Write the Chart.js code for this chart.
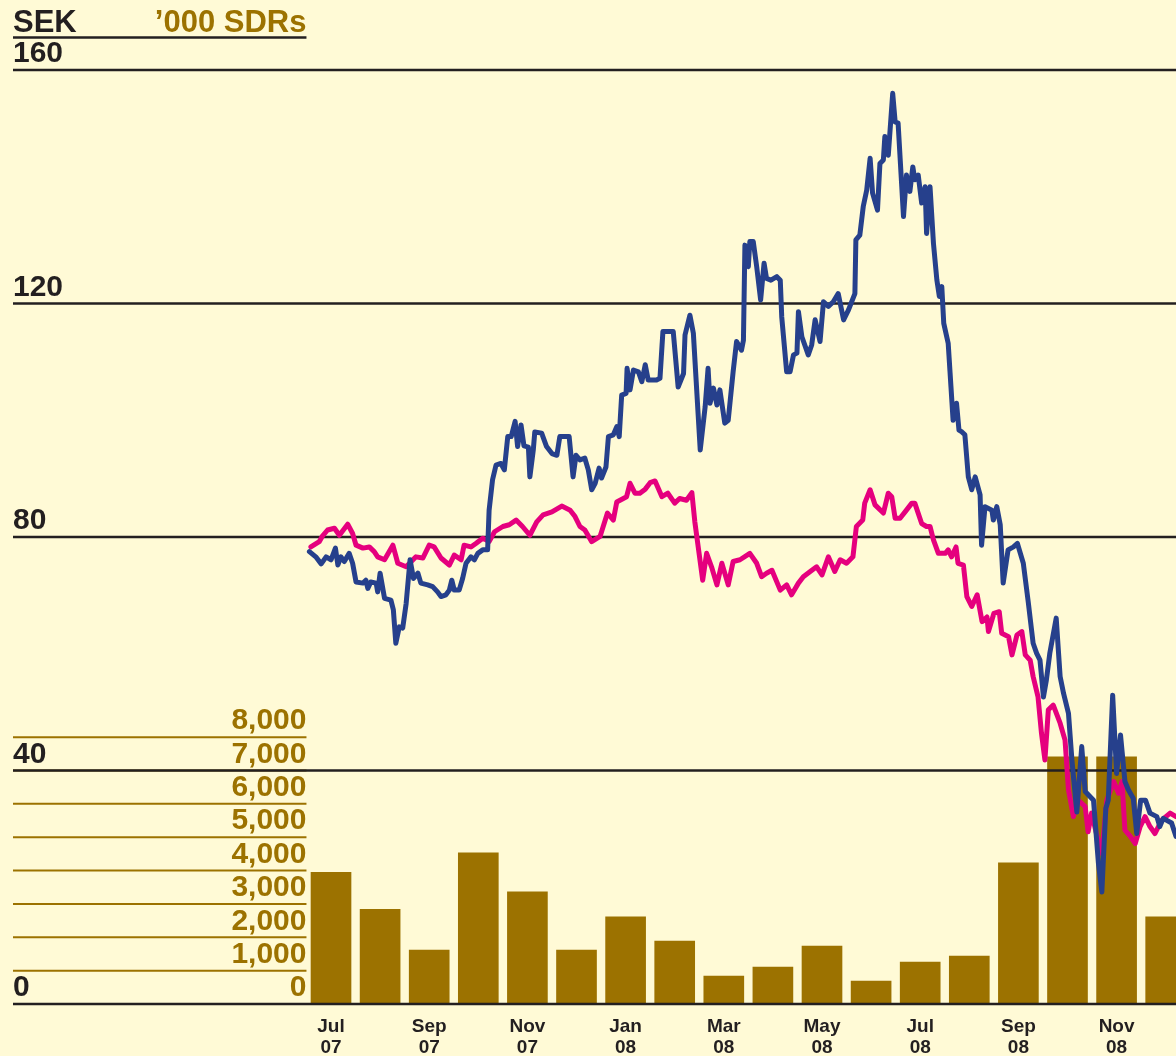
<!DOCTYPE html>
<html>
<head>
<meta charset="utf-8">
<title>SEK and '000 SDRs</title>
<script src="https://cdn.jsdelivr.net/npm/chart.js@4.4.1/dist/chart.umd.min.js"></script>
<style>
  html, body { margin: 0; padding: 0; background: #fffad6; }
  canvas { display: block; }
</style>
</head>
<body>
<canvas id="chart" width="1176" height="1056"></canvas>
<script>
// monthly bars, '000 SDRs (x = month index, 0 = Jul 07)
var months = ['Jul 07', 'Aug 07', 'Sep 07', 'Oct 07', 'Nov 07', 'Dec 07', 'Jan 08', 'Feb 08', 'Mar 08',
              'Apr 08', 'May 08', 'Jun 08', 'Jul 08', 'Aug 08', 'Sep 08', 'Oct 08', 'Nov 08', 'Dec 08'];
var sdrValues = [3950, 2840, 1620, 4530, 3360, 1620, 2610, 1890, 840,
                 1110, 1740, 690, 1260, 1440, 4230, 7410, 7410, 2610];

// x axis labels
var xTickPos = [0, 2, 4, 6, 8, 10, 12, 14, 16];
var xTickText = [['Jul', '07'], ['Sep', '07'], ['Nov', '07'], ['Jan', '08'], ['Mar', '08'],
                 ['May', '08'], ['Jul', '08'], ['Sep', '08'], ['Nov', '08']];

var sekTicks = [0, 40, 80, 120, 160];
var sdrTicksShown = 8000;

// SEK series, [month position, value]
var blueSeries = [
  [-0.44,77.5],[-0.31,76.6],[-0.20,75.4],[-0.10,76.6],[0.00,76.1],[0.09,78.1],[0.14,75.2],[0.20,76.6],
  [0.27,75.8],[0.37,77.2],[0.44,75.5],[0.51,72.3],[0.65,72.1],[0.71,72.6],[0.75,71.2],[0.81,72.3],
  [0.92,72.1],[0.95,70.6],[1.00,73.8],[1.09,69.5],[1.22,69.2],[1.27,67.5],[1.32,61.8],[1.39,64.6],
  [1.46,64.4],[1.53,68.6],[1.61,76.1],[1.68,72.9],[1.77,73.8],[1.83,72.1],[1.97,71.8],[2.07,71.5],
  [2.17,70.6],[2.24,69.8],[2.34,70.1],[2.41,70.9],[2.46,72.6],[2.51,70.9],[2.61,70.9],[2.68,72.9],
  [2.75,75.5],[2.85,76.6],[2.92,76.1],[2.99,77.2],[3.09,77.8],[3.19,77.8],[3.22,84.6],[3.29,89.8],
  [3.36,92.3],[3.46,92.6],[3.53,91.5],[3.60,97.2],[3.67,97.2],[3.75,99.8],[3.80,95.5],[3.87,99.2],
  [3.93,95.6],[4.02,95.4],[4.05,90.3],[4.12,94.9],[4.15,98.0],[4.29,97.8],[4.39,95.5],[4.50,94.3],
  [4.60,94.0],[4.66,97.2],[4.85,97.2],[4.93,90.3],[4.99,94.0],[5.07,93.2],[5.17,93.5],[5.24,91.5],
  [5.31,88.1],[5.38,89.2],[5.46,91.8],[5.51,90.1],[5.60,92.0],[5.65,97.2],[5.75,97.5],[5.82,98.9],
  [5.87,97.2],[5.92,104.3],[6.01,104.6],[6.03,108.9],[6.09,105.2],[6.16,108.6],[6.26,108.3],[6.33,106.6],
  [6.40,109.5],[6.46,106.9],[6.63,106.9],[6.70,107.2],[6.76,115.2],[6.97,115.2],[7.07,105.7],[7.18,108.0],
  [7.21,114.6],[7.31,118.0],[7.38,114.9],[7.52,94.9],[7.62,102.3],[7.68,108.9],[7.72,102.9],[7.79,105.5],
  [7.86,102.6],[7.92,105.2],[8.02,99.5],[8.09,100.0],[8.19,108.3],[8.26,113.5],[8.36,112.0],[8.40,113.7],
  [8.43,130.0],[8.50,126.3],[8.53,130.6],[8.60,130.6],[8.67,126.3],[8.75,120.6],[8.82,126.9],[8.87,124.3],
  [8.96,124.0],[9.08,124.6],[9.15,124.0],[9.18,117.7],[9.28,108.3],[9.35,108.3],[9.42,111.2],[9.49,111.5],
  [9.52,118.6],[9.59,114.3],[9.72,111.2],[9.79,112.9],[9.86,117.2],[9.96,113.5],[10.03,120.3],[10.13,119.5],
  [10.23,120.3],[10.33,121.7],[10.44,117.2],[10.54,118.9],[10.67,121.7],[10.69,130.9],[10.77,131.7],[10.84,136.6],
  [10.91,139.4],[10.98,144.9],[11.03,138.9],[11.13,136.0],[11.18,144.0],[11.25,144.6],[11.28,148.6],[11.35,145.4],
  [11.44,156.0],[11.49,151.1],[11.55,150.9],[11.66,134.9],[11.72,142.0],[11.79,139.2],[11.85,143.4],[11.89,141.2],
  [11.96,142.0],[12.03,137.2],[12.10,140.0],[12.13,132.0],[12.20,140.0],[12.27,130.3],[12.34,124.0],[12.39,121.2],
  [12.44,122.9],[12.48,116.6],[12.57,113.2],[12.67,100.0],[12.74,102.9],[12.79,98.3],[12.85,98.0],[12.91,97.5],
  [12.98,90.3],[13.05,88.1],[13.12,90.3],[13.22,87.2],[13.25,78.6],[13.32,85.2],[13.46,84.6],[13.49,82.9],
  [13.56,85.2],[13.63,82.1],[13.69,72.1],[13.79,77.8],[13.90,78.3],[13.98,78.9],[14.10,75.5],[14.20,68.9],
  [14.30,61.8],[14.37,60.1],[14.44,58.9],[14.51,52.6],[14.57,55.5],[14.64,60.1],[14.77,66.1],[14.85,56.1],
  [14.92,53.2],[15.02,49.8],[15.09,41.8],[15.19,32.9],[15.29,44.1],[15.36,36.4],[15.53,34.9],[15.63,24.1],
  [15.70,19.2],[15.78,33.5],[15.83,34.9],[15.92,52.9],[16.00,39.5],[16.08,46.1],[16.17,38.1],[16.24,36.7],
  [16.34,35.2],[16.41,29.2],[16.49,34.9],[16.59,34.9],[16.68,32.7],[16.82,32.1],[16.88,30.4],[16.95,31.8],
  [17.12,31.0],[17.21,28.7],[17.29,27.2]
];

var pinkSeries = [
  [-0.41,78.3],[-0.24,79.2],[-0.18,80.1],[-0.07,81.2],[0.07,81.5],[0.17,80.3],[0.34,82.2],[0.44,80.6],
  [0.51,78.6],[0.65,78.1],[0.78,78.3],[0.88,77.5],[0.95,76.6],[1.09,76.1],[1.26,78.6],[1.36,75.5],
  [1.53,74.9],[1.73,76.6],[1.87,76.4],[2.00,78.6],[2.10,78.3],[2.24,76.4],[2.41,75.2],[2.51,76.9],
  [2.65,76.1],[2.71,78.6],[2.85,78.3],[2.95,78.9],[3.09,79.8],[3.22,79.2],[3.33,80.9],[3.50,81.8],
  [3.63,82.1],[3.77,82.9],[3.90,81.8],[4.05,80.3],[4.19,82.6],[4.32,83.8],[4.50,84.3],[4.70,85.3],
  [4.87,84.6],[4.97,83.5],[5.07,81.8],[5.17,81.2],[5.31,79.2],[5.48,80.1],[5.63,84.1],[5.75,82.9],
  [5.82,86.0],[6.02,86.9],[6.09,89.2],[6.19,87.5],[6.29,87.5],[6.40,88.2],[6.50,89.3],[6.60,89.6],
  [6.74,86.9],[6.86,87.5],[7.00,85.8],[7.10,86.6],[7.24,86.3],[7.35,87.6],[7.41,82.6],[7.57,72.6],
  [7.65,77.2],[7.75,74.9],[7.86,71.8],[7.96,75.5],[8.09,71.8],[8.19,75.8],[8.33,76.1],[8.53,77.2],
  [8.67,75.5],[8.77,73.2],[8.87,73.8],[8.98,74.3],[9.15,70.9],[9.28,71.8],[9.38,70.1],[9.52,72.1],
  [9.62,73.2],[9.76,74.1],[9.89,74.9],[10.00,73.5],[10.13,76.6],[10.26,74.1],[10.37,76.1],[10.50,75.5],
  [10.63,76.6],[10.70,81.8],[10.83,82.9],[10.87,85.8],[10.98,88.1],[11.08,85.5],[11.25,84.1],[11.35,87.5],
  [11.42,86.9],[11.49,83.2],[11.59,83.2],[11.72,84.6],[11.83,85.8],[11.89,85.8],[12.03,82.3],[12.13,81.8],
  [12.20,81.8],[12.27,79.5],[12.37,77.2],[12.51,77.2],[12.57,77.8],[12.64,76.6],[12.73,78.3],[12.77,75.5],
  [12.88,75.2],[12.95,69.8],[13.05,68.1],[13.16,70.1],[13.26,65.5],[13.36,66.3],[13.39,63.8],[13.50,66.9],
  [13.61,67.2],[13.66,63.5],[13.80,62.9],[13.87,59.8],[13.97,63.2],[14.07,63.8],[14.14,59.8],[14.24,58.9],
  [14.30,56.1],[14.40,52.6],[14.47,46.4],[14.54,41.8],[14.61,50.4],[14.71,51.2],[14.85,48.1],[14.95,45.2],
  [15.02,36.7],[15.12,32.1],[15.22,34.9],[15.36,33.8],[15.42,29.5],[15.49,32.7],[15.59,29.2],[15.70,25.8],
  [15.80,34.9],[15.94,38.1],[16.04,36.1],[16.11,38.1],[16.17,29.8],[16.28,28.7],[16.38,27.5],[16.48,30.4],
  [16.58,32.1],[16.68,30.4],[16.78,29.2],[16.92,31.5],[17.09,32.7],[17.21,32.1],[17.29,31.5]
];

var BG = '#fffad6';
var INK = '#231f20';
var GOLD = '#9c7200';
var BLUE = '#26408c';
var PINK = '#e5007e';
var FONT = '"Liberation Sans", Arial, Helvetica, sans-serif';

Chart.defaults.font.family = FONT;
Chart.defaults.font.weight = 'bold';

// background, header and the short gold '000 SDR lines
var backdrop = {
    id: 'backdrop',
    beforeDraw: function(chart) {
        var ctx = chart.ctx;
        var area = chart.chartArea;
        var y1 = chart.scales.y1;
        var xEnd = chart.scales.x.getPixelForValue(-0.5);
        ctx.save();
        ctx.fillStyle = BG;
        ctx.fillRect(0, 0, chart.width, chart.height);

        ctx.strokeStyle = GOLD;
        ctx.lineWidth = 2;
        for (var v = 0; v <= sdrTicksShown; v += 1000) {
            var py = y1.getPixelForValue(v);
            ctx.beginPath();
            ctx.moveTo(area.left, py);
            ctx.lineTo(xEnd, py);
            ctx.stroke();
        }

        ctx.font = 'bold 31px ' + FONT;
        ctx.textBaseline = 'alphabetic';
        ctx.fillStyle = INK;
        ctx.textAlign = 'left';
        ctx.fillText('SEK', area.left, 32);
        ctx.fillStyle = GOLD;
        ctx.textAlign = 'right';
        ctx.fillText('\u2019000 SDRs', xEnd, 32);

        ctx.strokeStyle = INK;
        ctx.lineWidth = 2.5;
        ctx.beginPath();
        ctx.moveTo(area.left, 37.5);
        ctx.lineTo(xEnd, 37.5);
        ctx.stroke();
        ctx.restore();
    },
    // SEK grid lines sit on top of the bars but under the lines
    afterDatasetDraw: function(chart, args) {
        if (args.index !== 0) return;
        var ctx = chart.ctx;
        var area = chart.chartArea;
        var y = chart.scales.y;
        ctx.save();
        ctx.strokeStyle = INK;
        ctx.lineWidth = 2.5;
        sekTicks.forEach(function(v) {
            var py = y.getPixelForValue(v);
            ctx.beginPath();
            ctx.moveTo(area.left, py);
            ctx.lineTo(area.right, py);
            ctx.stroke();
        });
        ctx.restore();
    }
};

var ctx = document.getElementById('chart').getContext('2d');
var chart = new Chart(ctx, {
    type: 'bar',
    data: {
        datasets: [{
            label: "'000 SDRs",
            data: sdrValues.map(function(v, i) { return {x: i, y: v}; }),
            yAxisID: 'y1',
            backgroundColor: GOLD,
            borderWidth: 0,
            barThickness: 40,
            order: 3
        }, {
            type: 'line',
            label: 'SEK (magenta)',
            data: pinkSeries.map(function(p) { return {x: p[0], y: p[1]}; }),
            yAxisID: 'y',
            borderColor: PINK,
            borderWidth: 5,
            borderJoinStyle: 'round',
            borderCapStyle: 'round',
            pointRadius: 0,
            tension: 0,
            fill: false,
            order: 2
        }, {
            type: 'line',
            label: 'SEK (blue)',
            data: blueSeries.map(function(p) { return {x: p[0], y: p[1]}; }),
            yAxisID: 'y',
            borderColor: BLUE,
            borderWidth: 5,
            borderJoinStyle: 'round',
            borderCapStyle: 'round',
            pointRadius: 0,
            tension: 0,
            fill: false,
            order: 1
        }]
    },
    options: {
        responsive: false,
        animation: false,
        layout: { padding: { left: 13, top: 70, right: 0, bottom: 0 } },
        plugins: {
            legend: { display: false },
            tooltip: { enabled: false }
        },
        scales: {
            x: {
                type: 'linear',
                position: 'bottom',
                min: -6.477,
                max: 17.21,
                offset: false,
                grid: { display: false },
                border: { display: false },
                afterBuildTicks: function(scale) {
                    scale.ticks = xTickPos.map(function(v) { return {value: v}; });
                },
                afterFit: function(scale) { scale.height = 52; },
                ticks: {
                    autoSkip: false,
                    maxRotation: 0,
                    padding: 4.5,
                    color: INK,
                    font: { size: 19, weight: 'bold', lineHeight: 1.1 },
                    callback: function(value) {
                        var k = xTickPos.indexOf(value);
                        return k >= 0 ? xTickText[k] : '';
                    }
                }
            },
            y: {
                type: 'linear',
                position: 'left',
                min: 0,
                max: 160,
                grid: { display: false },
                border: { display: false },
                afterBuildTicks: function(scale) {
                    scale.ticks = sekTicks.map(function(v) { return {value: v}; });
                },
                afterFit: function(scale) { scale.width = 0; },
                ticks: {
                    mirror: true,
                    padding: 0,
                    labelOffset: -16,
                    autoSkip: false,
                    color: INK,
                    font: { size: 30, weight: 'bold' }
                }
            },
            y1: {
                type: 'linear',
                position: { x: -0.5 },
                min: 0,
                max: 28000,
                grid: { display: false, drawTicks: false },
                border: { display: false },
                ticks: {
                    stepSize: 1000,
                    padding: 0,
                    labelOffset: -16,
                    autoSkip: false,
                    color: GOLD,
                    font: { size: 30, weight: 'bold' },
                    callback: function(value) {
                        return value <= sdrTicksShown ? value.toLocaleString('en-US') : '';
                    }
                }
            }
        }
    },
    plugins: [backdrop]
});
</script>
</body>
</html>
